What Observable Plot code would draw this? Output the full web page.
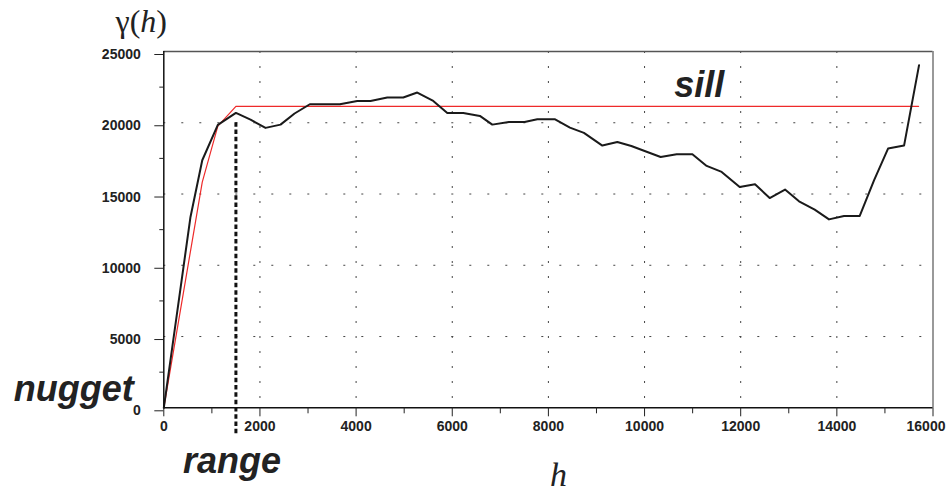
<!DOCTYPE html>
<html><head><meta charset="utf-8">
<script src="https://cdn.jsdelivr.net/npm/d3@7"></script>
<script src="https://cdn.jsdelivr.net/npm/@observablehq/plot@0.6"></script>
<style>body{margin:0;background:#fff;} svg{display:block}</style>
</head><body><div id="chart"></div>
<script>
const lagH = [0, 555, 800, 1124, 1500, 1804, 2116, 2428, 2720, 3038, 3350, 3662, 4024, 4300, 4648, 4981, 5272, 5605, 5897, 6230, 6575, 6833, 7178, 7505, 7769, 8130, 8448, 8739, 9122, 9434, 9725, 10002, 10335, 10668, 10995, 11292, 11604, 11979, 12298, 12603, 12922, 13213, 13539, 13837, 14149, 14476, 14773, 15065, 15398, 15710];
const gammaH = [0, 13390, 17370, 19850, 20690, 20220, 19640, 19870, 20650, 21300, 21300, 21300, 21530, 21530, 21770, 21770, 22120, 21530, 20690, 20690, 20480, 19870, 20060, 20060, 20250, 20250, 19660, 19290, 18400, 18650, 18370, 18020, 17600, 17790, 17790, 16970, 16550, 15490, 15680, 14720, 15310, 14490, 13900, 13220, 13460, 13460, 15960, 18190, 18400, 24040];
// Fitted model (red)
const modelLag = [0, 800, 1124, 1500, 15700];
const modelGamma = [0, 15840, 19760, 21150, 21150];
const sill = 21150;
const range = 1500;
const nugget = 0;
const rangeLineTop = 20000;
const rangeLineBottom = -1850;
const sillLabelLag = 11140;
// Ticks
const xTicks = [0, 2000, 4000, 6000, 8000, 10000, 12000, 14000, 16000];
const xMinor = [1000, 3000, 5000, 7000, 9000, 11000, 13000, 15000];
const yTicks = [0, 5000, 10000, 15000, 20000, 25000];
const yMinor = [2500, 7500, 12500, 17500, 22500];
const xGrid = [2000, 4000, 6000, 8000, 10000, 12000, 14000];
const yGrid = [5000, 10000, 15000, 20000];

const empirical = lagH.map((h, i) => ({h, g: gammaH[i]}));
const model = modelLag.map((h, i) => ({h, g: modelGamma[i]}));
const sansBI = "'Liberation Sans', Arial, sans-serif";
const serif = "'Liberation Serif', 'Times New Roman', serif";
const fmt = d3.format("d");
const lastX = xTicks[xTicks.length - 1];

const chart = Plot.plot({
  width: 948,
  height: 493,
  marginLeft: 163.3,
  marginRight: 15.5,
  marginTop: 51,
  marginBottom: 85.7,
  x: {domain: [0, 16000]},
  y: {domain: [0, 25000]},
  style: {fontFamily: sansBI, fontWeight: "bold", fontSize: "14px", color: "#222", background: "#fff"},
  marks: [
    Plot.ruleY(yGrid, {stroke: "#444", strokeDasharray: "2,16", strokeWidth: 1}),
    Plot.ruleX(xGrid, {stroke: "#444", strokeDasharray: "2,13", strokeWidth: 1}),
    Plot.ruleY([25000], {stroke: "#555", strokeWidth: 1.3}),
    Plot.ruleX([16000], {stroke: "#777", strokeWidth: 1.5}),
    Plot.line(model, {x: "h", y: "g", stroke: "#ee2a2a", strokeWidth: 1.2}),
    Plot.line(empirical, {x: "h", y: "g", stroke: "#1a1a1a", strokeWidth: 2}),
    Plot.ruleX([range], {y1: rangeLineTop, y2: rangeLineBottom, stroke: "#111", strokeWidth: 3, strokeDasharray: "4.5,2.8"}),
    Plot.ruleX([0], {stroke: "#111", strokeWidth: 1.5}),
    Plot.ruleY([0], {stroke: "#111", strokeWidth: 1.5}),
    Plot.axisY(yTicks, {tickSize: 9, tickPadding: 14, tickFormat: fmt, label: null, dy: 3, stroke: "#222"}),
    Plot.axisY(yMinor, {tickSize: 4, tickFormat: () => "", label: null, stroke: "#222"}),
    Plot.axisX(xTicks, {tickSize: 9, tickPadding: 4, tickFormat: d => d === lastX ? "" : fmt(d), label: null, stroke: "#222"}),
    Plot.axisX(xMinor, {tickSize: 6, tickFormat: () => "", label: null, stroke: "#222"}),
    Plot.text([lastX], {x: d => d, y: 0, text: fmt, lineAnchor: "top", textAnchor: "middle", dx: -7, dy: 13, fill: "#222"}),
    Plot.text([nugget], {x: 0, y: d => d, text: () => "nugget", textAnchor: "end", lineAnchor: "bottom", dx: -30, dy: -7, fontSize: 36, fontStyle: "italic", fontWeight: "bold", fill: "#222"}),
    Plot.text([range], {x: d => d, y: 0, text: () => "range", textAnchor: "middle", lineAnchor: "bottom", dx: -4, dy: 65, fontSize: 36, fontStyle: "italic", fontWeight: "bold", fill: "#222"}),
    Plot.text([sill], {x: sillLabelLag, y: d => d, text: () => "sill", textAnchor: "middle", lineAnchor: "bottom", dy: -9, fontSize: 36, fontStyle: "italic", fontWeight: "bold", fill: "#222"}),
    Plot.text(["h"], {frameAnchor: "bottom", text: d => d, lineAnchor: "bottom", dx: 10, dy: 78, fontSize: 34, fontStyle: "italic", fontWeight: "normal", fontFamily: serif, fill: "#222"})
  ]
});

const svg = d3.select(chart);
const xs = chart.scale("x"), ys = chart.scale("y");
const gl = svg.append("text")
  .attr("x", xs.apply(0) - 22)
  .attr("y", ys.apply(25000) - 19)
  .attr("text-anchor", "middle")
  .attr("fill", "#222")
  .style("font-family", serif)
  .style("font-weight", "normal")
  .style("font-size", "32px");
gl.append("tspan").text("γ(");
gl.append("tspan").style("font-style", "italic").text("h");
gl.append("tspan").text(")");

document.getElementById("chart").appendChild(chart);
</script>
</body></html>
